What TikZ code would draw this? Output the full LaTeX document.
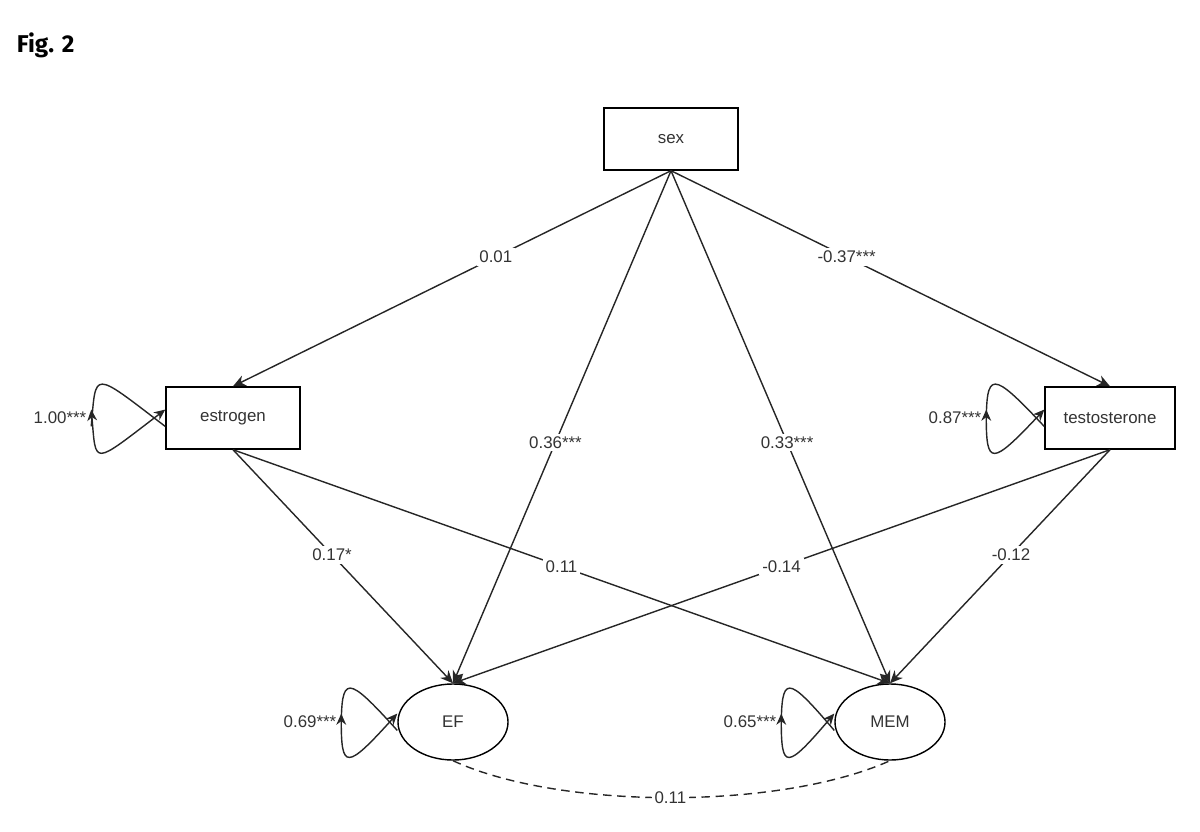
\documentclass[tikz,border=0pt]{standalone}
\usepackage{fontspec}
\setmainfont{Liberation Sans}
\newfontfamily\figfont{Fira Sans}
\usetikzlibrary{arrows.meta, positioning, shapes.geometric, calc}

\begin{document}
\begin{tikzpicture}[
  x=0.025cm, y=-0.025cm,
  every node/.style={font=\large, text=black!80},
  varbox/.style={rectangle, draw, line width=1pt, minimum width=3.35cm, minimum height=1.55cm},
  latent/.style={ellipse, draw, line width=1pt, minimum width=2.75cm, minimum height=1.9cm},
  path/.style={-{Stealth[length=9pt,width=8pt]}, line width=1pt, black!85},
  coef/.style={fill=white, inner sep=2pt},
  selfloop/.style={{Stealth[length=8pt,width=7pt]}-{Stealth[length=8pt,width=7pt]}, line width=1pt, black!85},
]
\useasboundingbox (0,0) rectangle (1200,832);

\node[font=\figfont\LARGE\bfseries, text=black, anchor=west] (fig) at (12,45) {Fig. 2};

\node[varbox] (sex) at (671,139) {sex};
\node[varbox] (estrogen) at (233,418) {estrogen};
\node[varbox, minimum width=3.25cm] (testo) at (1110,418) {testosterone};
\node[latent] (ef) at (453,722) {EF};
\node[latent] (mem) at (890,722) {MEM};

% Regression paths
\draw[path] (sex.south) -- node[coef, pos=0.4] {0.01} (estrogen.north);
\draw[path] (sex.south) -- node[coef, pos=0.4] {-0.37***} (testo.north);
\draw[path] (sex.south) -- node[coef, pos=0.53] {0.36***} (ef.north);
\draw[path] (sex.south) -- node[coef, pos=0.53] {0.33***} (mem.north);
\draw[path] (estrogen.south) -- node[coef, pos=0.45] {0.17*} (ef.north);
\draw[path] (estrogen.south) -- node[coef, pos=0.5] {0.11} (mem.north);
\draw[path] (testo.south) -- node[coef, pos=0.5] {-0.14} (ef.north);
\draw[path] (testo.south) -- node[coef, pos=0.45] {-0.12} (mem.north);

% Residual variances
\node (vest) at (60,418) {1.00***};
\node (vtes) at (955,418) {0.87***};
\node (vef) at (310,722) {0.69***};
\node (vmem) at (750,722) {0.65***};
\draw[selfloop] ([yshift=-6pt]estrogen.west) .. controls ($(vest.east)+(0,-48)$) and ($(vest.east)+(5,-48)$) .. ([yshift=-6pt]vest.east)
  ([yshift=6pt]vest.east) .. controls ($(vest.east)+(5,48)$) and ($(vest.east)+(0,48)$) .. ([yshift=6pt]estrogen.west);
\draw[selfloop] ([yshift=-6pt]testo.west) .. controls ($(vtes.east)+(5,-48)$) and ($(vtes.east)+(0,-48)$) .. ([yshift=-6pt]vtes.east)
  ([yshift=6pt]vtes.east) .. controls ($(vtes.east)+(0,48)$) and ($(vtes.east)+(5,48)$) .. ([yshift=6pt]testo.west);
\draw[selfloop] ([yshift=-6pt]ef.west) .. controls ($(vef.east)+(5,-48)$) and ($(vef.east)+(0,-48)$) .. ([yshift=-6pt]vef.east)
  ([yshift=6pt]vef.east) .. controls ($(vef.east)+(0,48)$) and ($(vef.east)+(5,48)$) .. ([yshift=6pt]ef.west);
\draw[selfloop] ([yshift=-6pt]mem.west) .. controls ($(vmem.east)+(5,-48)$) and ($(vmem.east)+(0,-48)$) .. ([yshift=-6pt]vmem.east)
  ([yshift=6pt]vmem.east) .. controls ($(vmem.east)+(0,48)$) and ($(vmem.east)+(5,48)$) .. ([yshift=6pt]mem.west);

% Covariance
\draw[dashed, line width=1pt, black!85, dash pattern=on 6pt off 4pt] (ef.south) .. controls (560,810) and (780,810) .. node[coef, pos=0.5] {0.11} (mem.south);
\end{tikzpicture}
\end{document}
